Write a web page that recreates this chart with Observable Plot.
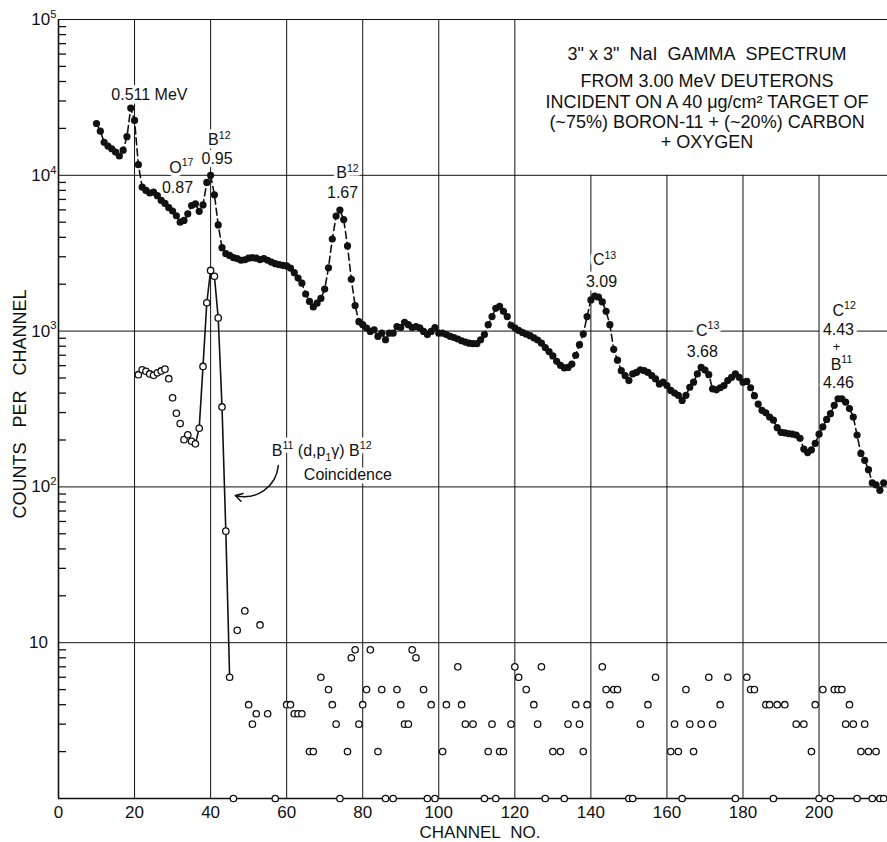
<!DOCTYPE html>
<html><head><meta charset="utf-8">
<script src="https://cdn.jsdelivr.net/npm/d3@7"></script>
<script src="https://cdn.jsdelivr.net/npm/@observablehq/plot@0.6"></script>
<style>body{margin:0;background:#fff}#chart{width:887px;height:842px}</style>
</head><body><div id="chart"></div>
<script>
// ---- singles spectrum (filled circles), one value per channel starting at singlesStart ----
const singlesStart = 10;
const singlesCounts = [
  21500,19200,16300,15400,14800,14100,13300,14500,17700,27000,
  22500,11700,8400,8000,7700,7800,7400,6900,6600,6200,
  5900,5500,5000,5130,5660,6400,6560,5870,6450,9000,
  10000,7500,4800,3430,3140,3060,2960,2920,2850,2870,
  2940,2960,2940,2880,2920,2850,2770,2710,2670,2640,
  2620,2540,2370,2190,2030,1730,1550,1430,1510,1620,
  1860,2550,3900,5470,5980,5200,3520,2150,1460,1150,
  1100,1045,995,1020,925,970,880,970,970,1070,
  1055,1140,1100,1055,1070,1050,995,950,995,1055,
  970,970,950,925,910,890,867,850,837,830,
  830,880,950,1100,1240,1400,1440,1340,1240,1090,
  1050,1010,980,955,935,905,877,836,784,739,
  693,640,603,580,585,614,700,818,957,1240,
  1585,1675,1650,1540,1340,1100,764,651,557,518,
  481,531,543,565,557,543,518,493,458,470,
  447,416,400,387,359,387,436,470,531,585,
  562,525,426,420,433,447,481,505,531,505,
  470,475,433,385,340,310,299,281,268,240,
  224,222,220,218,215,205,175,166,173,190,
  218,243,271,295,334,368,368,350,318,281,
  215,164,148,129,106,103,95,106
];

// ---- coincidence spectrum (open circles) ----
const coincChannels = [
  21,22,23,24,25,26,27,28,29,30,31,32,33,34,35,36,37,38,39,40,41,42,43,44,45,
  46,47,49,50,51,52,53,55,57,60,61,62,63,64,66,67,69,71,72,73,74,76,77,78,79,
  80,81,82,84,85,86,88,89,90,91,92,93,94,96,97,98,99,101,102,105,106,107,109,
  112,113,114,115,116,117,119,120,121,123,125,126,127,128,130,132,133,134,136,
  137,138,139,143,144,145,146,147,150,151,153,155,157,161,162,163,164,165,166,
  167,169,171,172,174,176,178,181,182,183,186,187,188,189,191,194,196,198,199,
  200,201,203,204,205,206,207,208,209,210,211,212,213,214,215,216,217
];
const coincCounts = [
  525,565,552,531,520,540,555,570,495,373,297,255,201,216,196,189,238,593,1520,2450,2250,1215,326,52,6,
  0,12,16,4,3,3.5,13,3.5,0,4,4,3.5,3.5,3.5,2,2,6,5,4,3,0,2,8,9,3,
  4,5,9,2,5,0,0,5,4,3,3,9,8,5,0,4,0,2,4,7,4,3,3,
  0,2,3,0,2,2,3,7,6,5,4,3,7,0,2,2,0,3,4,
  3,2,4,7,5,4,5,5,0,0,3,4,6,2,3,2,0,5,3,
  2,3,6,3,4,6,0,6,5,5,4,4,0,4,4,3,3,2,4,
  0,5,0,5,5,5,3,4,3,0,2,3,2,0,2,0,0
];
const coincLineFrom = 36, coincLineTo = 45;

// ---- axes ----
const xTickLabels = [0,20,40,60,80,100,120,140,160,180,200];
const xGridLines = [20,40,60,80,100,120,140,160,180,200];
const yDecades = [10,100,1000,10000,100000];
const yMinorMultipliers = [2,3,4,5,6,7,8,9];
const yMinorBases = [1,10,100,1000,10000];

// ---- text ----
const titleLines = [
  "3\" x 3\"\u00a0\u00a0NaI\u00a0\u00a0GAMMA\u00a0\u00a0SPECTRUM",
  "FROM 3.00 MeV DEUTERONS",
  "INCIDENT ON A 40 \u03bcg/cm\u00b2 TARGET OF",
  "(~75%) BORON-11 + (~20%) CARBON",
  "+ OXYGEN"
];
const titleOffsets = [35, 62, 83, 103, 123];
const peakLabels = [
  {text: "0.511 MeV", ch: 23.9, counts: 33000},
  {text: "O^{17}", ch: 32.3, counts: 11200},
  {text: "0.87", ch: 31.3, counts: 8300},
  {text: "B^{12}", ch: 42.3, counts: 16800},
  {text: "0.95", ch: 41.7, counts: 12700},
  {text: "B^{12}", ch: 76.0, counts: 10300},
  {text: "1.67", ch: 74.7, counts: 7700},
  {text: "C^{13}", ch: 143.6, counts: 2850},
  {text: "3.09", ch: 142.8, counts: 2080},
  {text: "C^{13}", ch: 170.7, counts: 1010},
  {text: "3.68", ch: 169.3, counts: 740},
  {text: "C^{12}", ch: 206.6, counts: 1355},
  {text: "4.43", ch: 205.1, counts: 1024},
  {text: "B^{11}", ch: 205.9, counts: 611},
  {text: "4.46", ch: 205.1, counts: 468}
];
const plusLabel = [{text: "+", ch: 204.6, counts: 796}];
const coincLabels = [
  {text: "B^{11} (d,p_{1}\u03b3) B^{12}", ch: 69.2, counts: 170},
  {text: "Coincidence", ch: 76.1, counts: 120}
];
const arrowPath = [{x1: 57.8, y1: 137, x2: 46.5, y2: 88}];

const singles = singlesCounts.map((c, i) => ({ch: singlesStart + i, counts: c}));
const coinc = coincChannels.map((ch, i) => ({ch, counts: coincCounts[i]}));
const coincLine = coinc.filter(d => d.ch >= coincLineFrom && d.ch <= coincLineTo);
const minorTicks = yMinorBases.flatMap(b => yMinorMultipliers.map(m => b * m));
const ink = "#111";

// text with a white halo drawn underneath (masks grid lines like the original lettering)
const haloText = (data, opts) => [
  Plot.text(data, {...opts, fill: "white", stroke: "white", strokeWidth: 7}),
  Plot.text(data, {...opts, fill: ink})
];

const yFmt = d => d === 10 ? "10\u2002" : `10^{${Math.round(Math.log10(d))}}`;

const chart = Plot.plot({
  width: 887, height: 842,
  marginLeft: 58, marginRight: 0, marginTop: 19, marginBottom: 44,
  x: {domain: [0, 218]},
  y: {type: "log", domain: [1, 1e5]},
  style: {fontFamily: "'Liberation Sans', Arial, sans-serif", background: "#fff", color: ink},
  marks: [
    Plot.ruleX(xGridLines, {x: d => d, y1: 1, y2: d => d >= 140 ? 1e4 : 1e5, stroke: ink, strokeWidth: 1}),
    Plot.ruleY(yDecades, {y: d => d, stroke: ink, strokeWidth: 1}),
    Plot.ruleX([0], {stroke: ink, strokeWidth: 1.6}),
    Plot.ruleY([1], {stroke: ink, strokeWidth: 1.6}),
    Plot.axisY({ticks: minorTicks, tickSize: 8, dx: 8, tickFormat: () => "", label: null, stroke: ink, strokeWidth: 1.3}),
    Plot.axisY({ticks: yDecades, tickSize: 0, tickPadding: 2, tickFormat: yFmt, fontSize: 17, label: null}),
    Plot.axisX({ticks: xTickLabels, tickSize: 0, tickPadding: 7, fontSize: 17, label: null}),
    ...haloText(peakLabels.filter(d => d.ch < 200), {x: "ch", y: "counts", text: "text", fontSize: 16}),
    ...haloText(peakLabels.filter(d => d.ch >= 200), {x: "ch", y: "counts", text: "text", fontSize: 16}),
    ...haloText(plusLabel, {x: "ch", y: "counts", text: "text", fontSize: 13}),
    ...haloText(coincLabels, {x: "ch", y: "counts", text: "text", fontSize: 16}),
    ...titleLines.map((t, i) => Plot.text([t], {frameAnchor: "top", lineAnchor: "middle", textAnchor: "middle", dx: 234, dy: titleOffsets[i], fontSize: 18, fill: ink})),
    Plot.text(["CHANNEL\u00a0\u00a0NO."], {frameAnchor: "bottom", lineAnchor: "middle", textAnchor: "middle", dx: 7, dy: 34, fontSize: 17, fill: ink}),
    Plot.text(["COUNTS\u00a0\u00a0\u00a0PER\u00a0\u00a0\u00a0CHANNEL"], {frameAnchor: "left", lineAnchor: "middle", textAnchor: "middle", dx: -38, dy: -5, rotate: -90, fontSize: 18, fill: ink}),
    Plot.arrow(arrowPath, {x1: "x1", y1: "y1", x2: "x2", y2: "y2", bend: 50, headLength: 8, stroke: ink, strokeWidth: 1.5}),
    // data
    Plot.line(singles, {x: "ch", y: "counts", stroke: ink, strokeWidth: 1.6, strokeDasharray: "7,4"}),
    Plot.dot(singles, {x: "ch", y: "counts", r: 3.6, fill: ink, stroke: "none"}),
    Plot.line(coincLine, {x: "ch", y: "counts", stroke: ink, strokeWidth: 1.6}),
    Plot.dot(coinc, {x: "ch", y: d => Math.max(d.counts, 1), r: 3.2, fill: "white", stroke: ink, strokeWidth: 1.3})
  ]
});
document.getElementById("chart").appendChild(chart);

// render ^{..} as superscript and _{..} as subscript tspans
const SVGNS = "http://www.w3.org/2000/svg";
chart.querySelectorAll("text").forEach(t => {
  const s = t.textContent;
  if (!/[\^_]\{/.test(s)) return;
  const fs = parseFloat(getComputedStyle(t).fontSize) || 16;
  const parts = s.split(/([\^_]\{[^}]*\})/).filter(p => p !== "");
  while (t.firstChild) t.removeChild(t.firstChild);
  let shift = 0;
  for (const p of parts) {
    const ts = document.createElementNS(SVGNS, "tspan");
    let target = 0, txt = p, small = false;
    if (p.startsWith("^{")) { target = -0.42 * fs; txt = p.slice(2, -1); small = true; }
    else if (p.startsWith("_{")) { target = 0.28 * fs; txt = p.slice(2, -1); small = true; }
    ts.setAttribute("dy", (target - shift).toFixed(2));
    shift = target;
    if (small) ts.setAttribute("font-size", (0.66 * fs).toFixed(1));
    ts.textContent = txt;
    t.appendChild(ts);
  }
});
</script></body></html>
